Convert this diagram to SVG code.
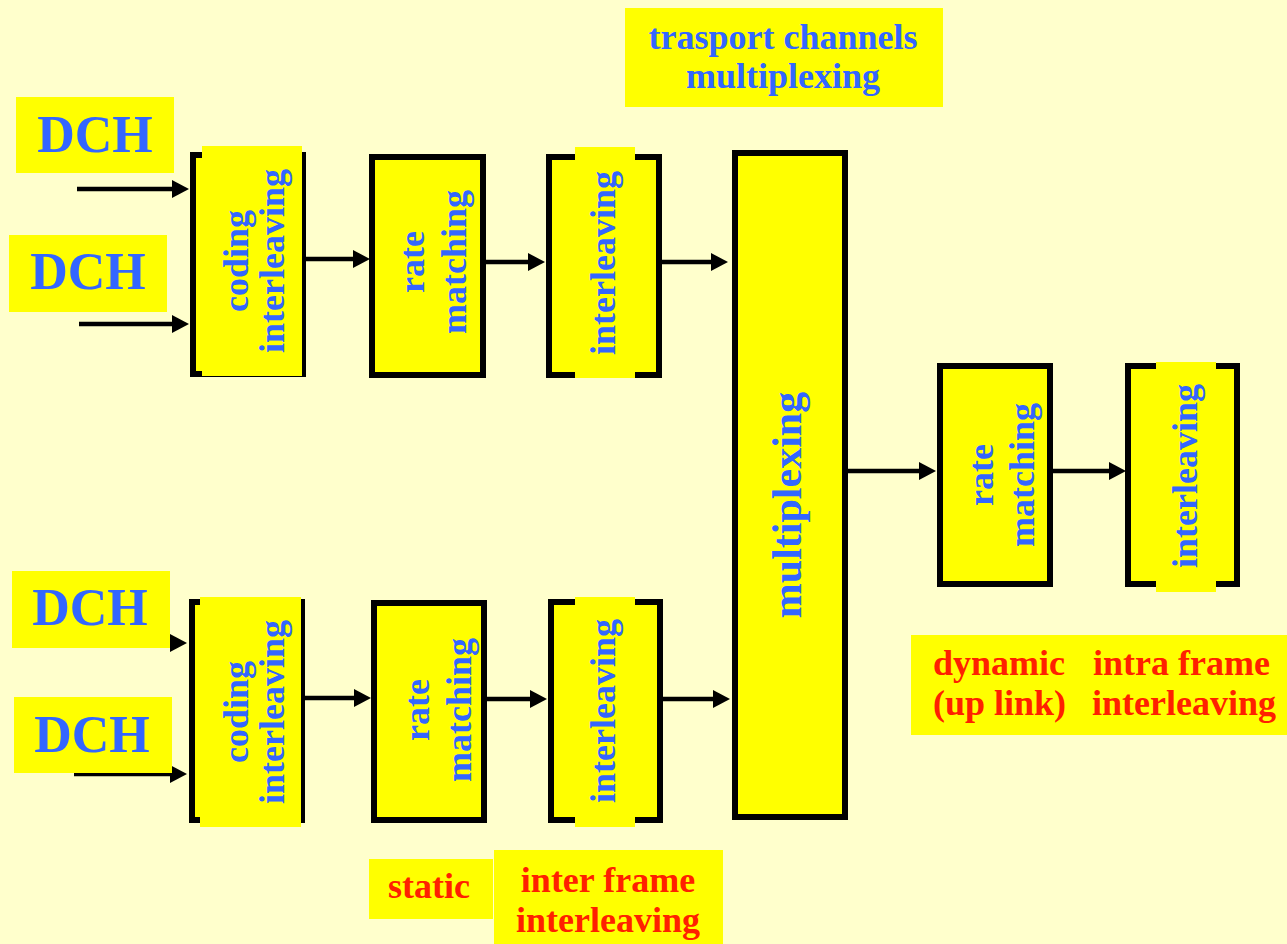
<svg xmlns="http://www.w3.org/2000/svg" width="1287" height="944" viewBox="0 0 1287 944">
  <style>
    .blk { fill: #FFFF00; stroke: #000000; stroke-width: 6; }
    .pad { fill: #FFFF00; }
    .lbl { font-family: "Liberation Serif", "Times New Roman", serif; font-weight: bold; fill: #3366FF; text-anchor: middle; }
    .v { font-size: 36px; }
    .dch { font-size: 52px; }
    .note { font-family: "Liberation Serif", "Times New Roman", serif; font-weight: bold; font-size: 36px; fill: #FF2000; }
    .link { stroke: #000000; stroke-width: 4.5; fill: none; marker-end: url(#head); }
  </style>
  <defs>
    <marker id="head" markerUnits="userSpaceOnUse" markerWidth="18" markerHeight="18" refX="1" refY="9" orient="auto" viewBox="0 0 18 18">
      <path d="M0,0 L17,9 L0,18 Z" fill="#000000"/>
    </marker>
  </defs>

  <!-- page background -->
  <rect x="0" y="0" width="1287" height="944" fill="#FFFFCC"/>

  <!-- connectors -->
  <g id="connectors">
    <line class="link" x1="77" y1="189" x2="173" y2="189"/>
    <line class="link" x1="79" y1="324" x2="173" y2="324"/>
    <line class="link" x1="77" y1="643" x2="171" y2="643"/>
    <line class="link" x1="74" y1="774" x2="171" y2="774"/>

    <line class="link" x1="305" y1="259" x2="354" y2="259"/>
    <line class="link" x1="486" y1="262" x2="529" y2="262"/>
    <line class="link" x1="662" y1="262" x2="712" y2="262"/>

    <line class="link" x1="305" y1="698" x2="355" y2="698"/>
    <line class="link" x1="487" y1="699" x2="531" y2="699"/>
    <line class="link" x1="663" y1="699" x2="714" y2="699"/>

    <line class="link" x1="848" y1="471" x2="920" y2="471"/>
    <line class="link" x1="1053" y1="471" x2="1110" y2="471"/>
  </g>

  <!-- input channels -->
  <g id="dch1">
    <rect class="pad" x="16" y="97" width="158" height="76"/>
    <text class="lbl dch" x="95" y="152">DCH</text>
  </g>
  <g id="dch2">
    <rect class="pad" x="9" y="235" width="158" height="77"/>
    <text class="lbl dch" x="88" y="289">DCH</text>
  </g>
  <g id="dch3">
    <rect class="pad" x="12" y="571" width="158" height="77"/>
    <text class="lbl dch" x="90" y="625">DCH</text>
  </g>
  <g id="dch4">
    <rect class="pad" x="14" y="697" width="158" height="76"/>
    <text class="lbl dch" x="92" y="752">DCH</text>
  </g>

  <!-- upper branch -->
  <g id="coding1">
    <rect class="blk" x="193" y="155" width="110" height="219"/>
    <rect class="pad" x="202" y="146" width="100" height="230"/>
    <text class="lbl v" transform="translate(248,261) rotate(-90)"><tspan x="0" y="0">coding</tspan><tspan x="0" y="36">interleaving</tspan></text>
  </g>
  <g id="rate1">
    <rect class="blk" x="372" y="157" width="111" height="218"/>
    <text class="lbl v" transform="translate(424,262) rotate(-90)"><tspan x="0" y="0">rate</tspan><tspan x="0" y="42">matching</tspan></text>
  </g>
  <g id="inter1">
    <rect class="blk" x="549" y="157" width="110" height="218"/>
    <rect class="pad" x="575" y="147" width="60" height="231"/>
    <text class="lbl v" transform="translate(615,263) rotate(-90)">interleaving</text>
  </g>

  <!-- lower branch -->
  <g id="coding2">
    <rect class="blk" x="192" y="602" width="110" height="218"/>
    <rect class="pad" x="200" y="597" width="101" height="230"/>
    <text class="lbl v" transform="translate(248,712) rotate(-90)"><tspan x="0" y="0">coding</tspan><tspan x="0" y="36">interleaving</tspan></text>
  </g>
  <g id="rate2">
    <rect class="blk" x="374" y="603" width="110" height="217"/>
    <text class="lbl v" transform="translate(429,710) rotate(-90)"><tspan x="0" y="0">rate</tspan><tspan x="0" y="42">matching</tspan></text>
  </g>
  <g id="inter2">
    <rect class="blk" x="551" y="602" width="109" height="218"/>
    <rect class="pad" x="575" y="597" width="60" height="230"/>
    <text class="lbl v" transform="translate(615,711) rotate(-90)">interleaving</text>
  </g>

  <!-- transport channel multiplexing -->
  <g id="mux">
    <rect class="blk" x="735" y="153" width="110" height="664"/>
    <text class="lbl" font-size="42" transform="translate(801,505) rotate(-90)">multiplexing</text>
  </g>
  <g id="mux-title">
    <rect class="pad" x="625" y="8" width="318" height="99"/>
    <text class="lbl v" x="783" y="49">trasport channels</text>
    <text class="lbl v" x="783" y="88">multiplexing</text>
  </g>

  <!-- physical channel stage -->
  <g id="rate3">
    <rect class="blk" x="940" y="366" width="110" height="218"/>
    <text class="lbl v" transform="translate(993,475) rotate(-90)"><tspan x="0" y="0">rate</tspan><tspan x="0" y="41">matching</tspan></text>
  </g>
  <g id="inter3">
    <rect class="blk" x="1128" y="366" width="109" height="218"/>
    <rect class="pad" x="1156" y="362" width="60" height="230"/>
    <text class="lbl v" transform="translate(1197,476) rotate(-90)">interleaving</text>
  </g>

  <!-- annotations -->
  <g id="note-static">
    <rect class="pad" x="369" y="859" width="124" height="60"/>
    <text class="note" x="388" y="898">static</text>
  </g>
  <g id="note-inter">
    <rect class="pad" x="494" y="850" width="229" height="94"/>
    <text class="note" x="608" y="892" text-anchor="middle">inter frame</text>
    <text class="note" x="608" y="932" text-anchor="middle">interleaving</text>
  </g>
  <g id="note-dynamic">
    <rect class="pad" x="911" y="635" width="376" height="100"/>
    <text class="note" x="933" y="675">dynamic</text>
    <text class="note" x="933" y="715">(up link)</text>
    <text class="note" x="1093" y="675">intra frame</text>
    <text class="note" x="1092" y="715">interleaving</text>
  </g>
</svg>
